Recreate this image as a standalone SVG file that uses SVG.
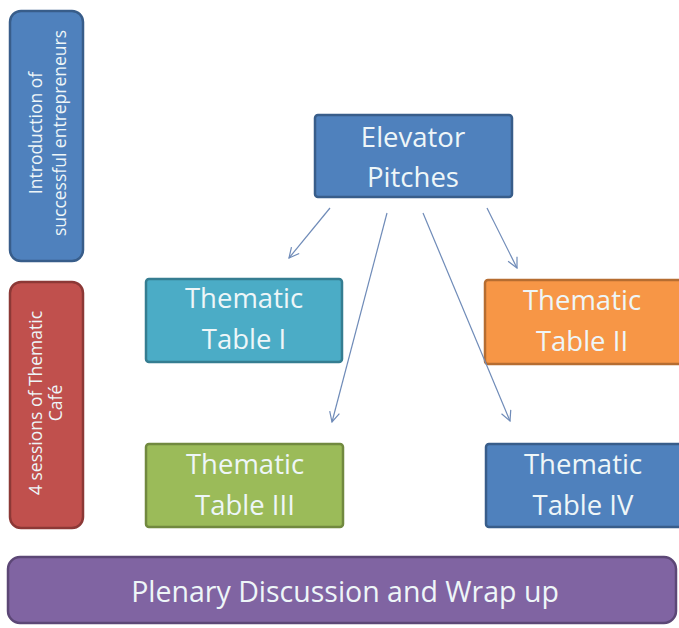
<svg xmlns="http://www.w3.org/2000/svg" width="679" height="628" viewBox="0 0 679 628">
<defs>
<style>
.t{font-family:"Open Sans","Liberation Sans",sans-serif;fill:#eef6f8;text-anchor:middle}
.big{font-size:27.5px}
.pl{font-size:28.5px}
.side{font-size:17.5px}
.conn line{stroke:#6f8bb8;stroke-width:1.2;fill:none}
</style>
<marker id="ah" viewBox="0 0 12 12" refX="11" refY="6" markerWidth="12" markerHeight="12" markerUnits="userSpaceOnUse" orient="auto">
<path d="M1,1 L11,6 L1,11" fill="none" stroke="#6f8bb8" stroke-width="1.2"/>
</marker>
</defs>
<rect width="679" height="628" fill="#ffffff"/>
<g id="intro">
<rect x="10" y="11" width="73" height="250" rx="11" fill="#4f81bd" stroke="#385d8a" stroke-width="2.5"/>
<text class="t side" transform="translate(42,133) rotate(-90)">Introduction of</text>
<text class="t side" transform="translate(66,133) rotate(-90)">successful entrepreneurs</text>
</g>
<g id="sessions">
<rect x="10" y="282" width="73" height="246" rx="11" fill="#c0504d" stroke="#8c3836" stroke-width="2.5"/>
<text class="t side" transform="translate(42,403) rotate(-90)">4 sessions of Thematic</text>
<text class="t side" transform="translate(62,403) rotate(-90)">Café</text>
</g>
<g id="elevator">
<rect x="315" y="115" width="197" height="82" rx="3" fill="#4f81bd" stroke="#385d8a" stroke-width="2.5"/>
<text class="t big" x="413" y="147">Elevator</text>
<text class="t big" x="413" y="187">Pitches</text>
</g>
<g id="table1">
<rect x="146" y="279" width="196" height="83" rx="3" fill="#4bacc6" stroke="#357d91" stroke-width="2.5"/>
<text class="t big" x="244" y="308">Thematic</text>
<text class="t big" x="244" y="349">Table I</text>
</g>
<g id="table2">
<rect x="485" y="280" width="200" height="84" rx="3" fill="#f79646" stroke="#b66d31" stroke-width="2.5"/>
<text class="t big" x="582" y="310">Thematic</text>
<text class="t big" x="582" y="351">Table II</text>
</g>
<g id="table3">
<rect x="146" y="444" width="197" height="83" rx="3" fill="#9bbb59" stroke="#71893f" stroke-width="2.5"/>
<text class="t big" x="245" y="474">Thematic</text>
<text class="t big" x="245" y="515">Table III</text>
</g>
<g id="table4">
<rect x="486" y="444" width="200" height="83" rx="3" fill="#4f81bd" stroke="#385d8a" stroke-width="2.5"/>
<text class="t big" x="583" y="474">Thematic</text>
<text class="t big" x="583" y="515">Table IV</text>
</g>
<g id="plenary">
<rect x="8" y="557" width="668" height="66" rx="12" fill="#8064a2" stroke="#5c4776" stroke-width="2.5"/>
<text class="t pl" x="345" y="602">Plenary Discussion and Wrap up</text>
</g>
<g class="conn">
<line x1="330" y1="208" x2="289" y2="258" marker-end="url(#ah)"/>
<line x1="387" y1="213" x2="332" y2="422" marker-end="url(#ah)"/>
<line x1="423" y1="213" x2="510" y2="421" marker-end="url(#ah)"/>
<line x1="487" y1="208" x2="517" y2="268" marker-end="url(#ah)"/>
</g>
</svg>
